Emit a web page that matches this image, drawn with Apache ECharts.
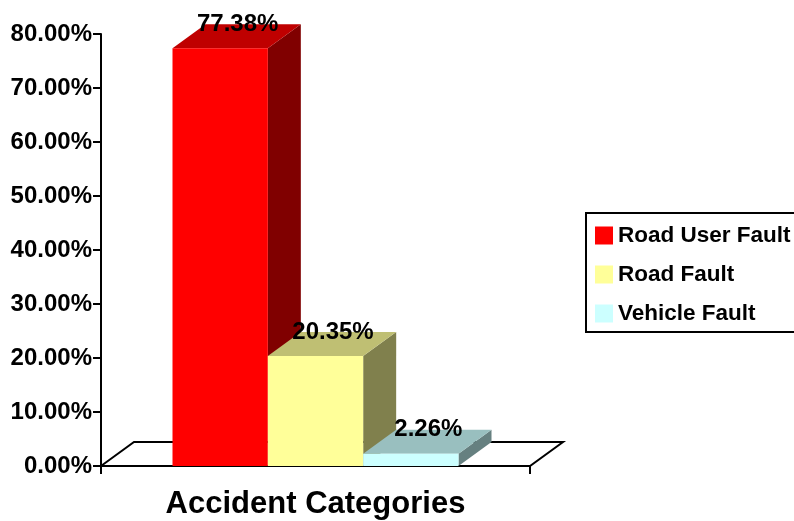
<!DOCTYPE html>
<html>
<head>
<meta charset="utf-8">
<style>html,body{margin:0;padding:0;background:#fff;overflow:hidden}#c{width:794px;height:521px}</style>
<script src="https://cdn.jsdelivr.net/npm/echarts@6/dist/echarts.min.js"></script>
</head>
<body>
<div id="c"></div>
<script>
var categories = ['Accident Categories'];
var seriesNames = ['Road User Fault', 'Road Fault', 'Vehicle Fault'];
var roadUserFault = [77.38];
var roadFault = [20.35];
var vehicleFault = [2.26];
var frontColors = ['#ff0000', '#ffff99', '#ccffff'];
var topColors = ['#bf0000', '#bfbf73', '#99bfbf'];
var sideColors = ['#800000', '#80804d', '#668080'];
var FONT = '"Liberation Sans", Arial, sans-serif';
var DX = 33, DY = -24;

function pct(v) { return v.toFixed(2) + '%'; }

function barItem(index) {
  return function (params, api) {
    var v = api.value(1);
    var base = api.coord([0, 0]);
    var tip = api.coord([0, v]);
    var band = api.size([1, 0])[0];
    var w = band * 2 / 9;
    var x0 = base[0] - band / 3 + index * w;
    var x1 = x0 + w;
    var yT = tip[1], yB = base[1];
    return {
      type: 'group',
      children: [
        { type: 'polygon', shape: { points: [[x1, yB], [x1 + DX, yB + DY], [x1 + DX, yT + DY], [x1, yT]] }, style: { fill: sideColors[index] } },
        { type: 'polygon', shape: { points: [[x0, yT], [x0 + DX, yT + DY], [x1 + DX, yT + DY], [x1, yT]] }, style: { fill: topColors[index] } },
        { type: 'rect', shape: { x: x0, y: yT, width: w, height: yB - yT }, style: { fill: frontColors[index] } },
        { type: 'text', z2: 10, style: { x: (x0 + x1 + DX) / 2 + 1, y: yT + DY, text: pct(v), align: 'center', verticalAlign: 'middle', fill: '#000', font: 'bold 24px ' + FONT } }
      ]
    };
  };
}

function floorItem(params, api) {
  var a = api.coord([0, 0]);
  var band = api.size([1, 0])[0];
  var l = a[0] - band / 2, r = a[0] + band / 2, y = a[1];
  return {
    type: 'polygon',
    shape: { points: [[l, y], [l + DX, y + DY], [r + DX, y + DY], [r, y]] },
    style: { fill: '#fff', stroke: '#000', lineWidth: 2 }
  };
}

function barSeries(i, values) {
  return {
    type: 'custom', name: seriesNames[i], renderItem: barItem(i),
    itemStyle: { color: frontColors[i] },
    encode: { x: 0, y: 1 }, z: 3,
    data: values.map(function (v, k) { return [k, v]; })
  };
}

var chart = echarts.init(document.getElementById('c'), null, { renderer: 'canvas' });
chart.setOption({
  animation: false,
  backgroundColor: '#fff',
  textStyle: { fontFamily: FONT },
  grid: { left: 101, top: 34, width: 429, height: 432, containLabel: false },
  legend: {
    data: seriesNames.map(function (n) { return { name: n, icon: 'rect' }; }),
    left: 586, top: 213, orient: 'vertical',
    itemWidth: 18, itemHeight: 18, itemGap: 16, padding: [11, 12, 7, 9],
    borderColor: '#000', borderWidth: 2, backgroundColor: '#fff',
    textStyle: { fontFamily: FONT, fontWeight: 'bold', fontSize: 22.5, color: '#000', lineHeight: 21 },
    selectedMode: false
  },
  xAxis: {
    type: 'category', data: categories,
    axisLine: { show: true, onZero: false, lineStyle: { color: '#000', width: 2 } },
    axisTick: { show: true, length: 8, lineStyle: { color: '#000', width: 2 } },
    axisLabel: { color: '#000', fontFamily: FONT, fontWeight: 'bold', fontSize: 31, margin: 23 },
    splitLine: { show: false }
  },
  yAxis: {
    type: 'value', min: 0, max: 80, interval: 10,
    axisLine: { show: true, lineStyle: { color: '#000', width: 2 } },
    axisTick: { show: true, length: 8, lineStyle: { color: '#000', width: 2 } },
    axisLabel: { color: '#000', fontFamily: FONT, fontWeight: 'bold', fontSize: 24, margin: 9, padding: [2, 0, 0, 0], formatter: pct },
    splitLine: { show: false }
  },
  series: [
    { type: 'custom', name: 'floor', renderItem: floorItem, encode: { x: 0, y: 1 }, z: 1, data: [[0, 0]], silent: true },
    barSeries(0, roadUserFault),
    barSeries(1, roadFault),
    barSeries(2, vehicleFault)
  ]
});
</script>
</body>
</html>
